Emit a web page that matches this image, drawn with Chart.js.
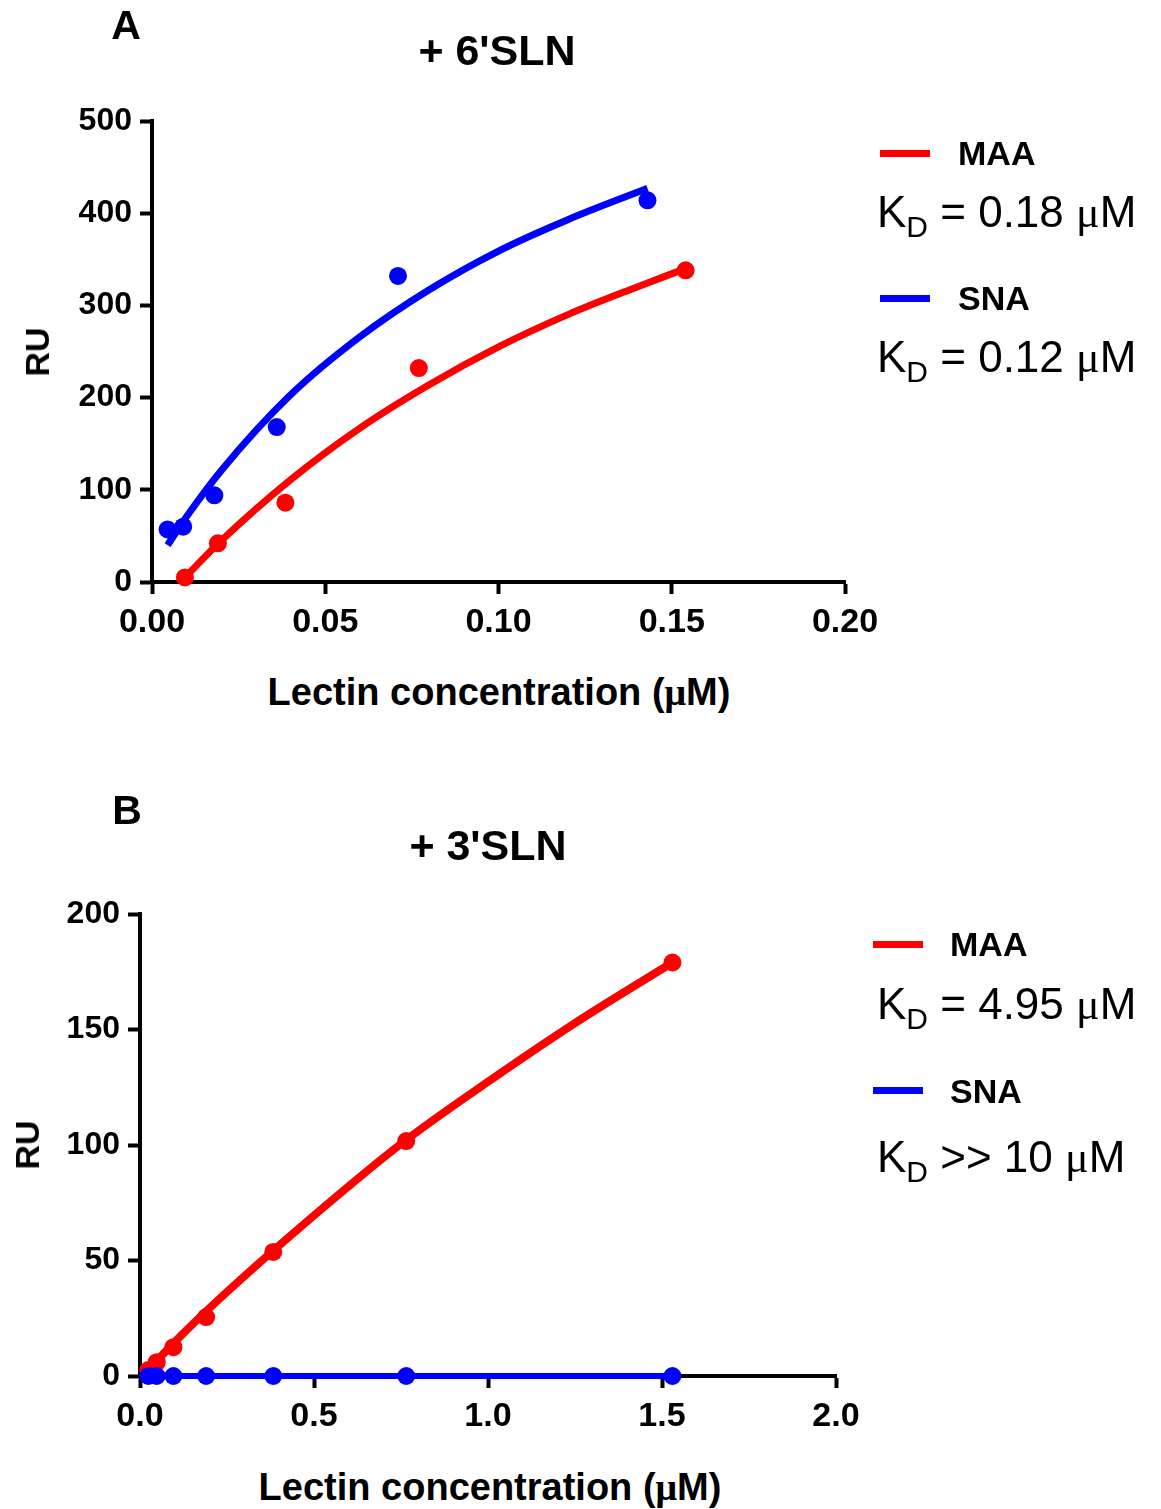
<!DOCTYPE html>
<html><head><meta charset="utf-8">
<script src="https://cdn.jsdelivr.net/npm/chart.js@4"></script>
<style>
body{margin:0;background:#fff;width:1161px;height:1509px;position:relative;overflow:hidden;font-family:"Liberation Sans",Arial,sans-serif;color:#000;}
.abs{position:absolute;white-space:nowrap;line-height:1;}
.c{transform:translate(-50%,-50%);}
.l{transform:translateY(-50%);}
.panel{font-size:41px;font-weight:bold;}
.ttl{font-size:43px;font-weight:bold;}
.xt{font-size:38px;font-weight:bold;}
.yt{font-size:34px;font-weight:bold;transform:translate(-50%,-50%) rotate(-90deg);}
.lg{font-size:34px;font-weight:bold;}
.kd{font-size:44px;}
.kd sub{font-size:30px;vertical-align:-10px;line-height:0;}
.mu{font-family:"Liberation Serif","Times New Roman",serif;}
.bar{position:absolute;height:7px;width:50px;}
canvas{position:absolute;left:0;}
</style></head>
<body>
<canvas id="cA" width="900" height="660" style="top:0px"></canvas>
<canvas id="cB" width="900" height="660" style="top:790px"></canvas>

<div class="abs c panel" style="left:126px;top:25px">A</div>
<div class="abs c ttl" style="left:497px;top:50px">+ 6'SLN</div>
<div class="abs yt" style="left:37px;top:352px">RU</div>
<div class="abs c xt" style="left:499px;top:692px">Lectin concentration (<span class="mu">μ</span>M)</div>
<div class="bar" style="left:880px;top:150px;background:#ff0000"></div>
<div class="abs l lg" style="left:958px;top:153px">MAA</div>
<div class="abs l kd" style="left:877px;top:212px">K<sub>D</sub> = 0.18 <span class="mu">μ</span>M</div>
<div class="bar" style="left:880px;top:295px;background:#0000ff"></div>
<div class="abs l lg" style="left:958px;top:298px">SNA</div>
<div class="abs l kd" style="left:877px;top:357px">K<sub>D</sub> = 0.12 <span class="mu">μ</span>M</div>

<div class="abs c panel" style="left:127px;top:810px">B</div>
<div class="abs c ttl" style="left:488px;top:845px">+ 3'SLN</div>
<div class="abs yt" style="left:27px;top:1145px">RU</div>
<div class="abs c xt" style="left:490px;top:1487px">Lectin concentration (<span class="mu">μ</span>M)</div>
<div class="bar" style="left:873px;top:941px;background:#ff0000"></div>
<div class="abs l lg" style="left:950px;top:944px">MAA</div>
<div class="abs l kd" style="left:877px;top:1004px">K<sub>D</sub> = 4.95 <span class="mu">μ</span>M</div>
<div class="bar" style="left:873px;top:1087px;background:#0000ff"></div>
<div class="abs l lg" style="left:950px;top:1091px">SNA</div>
<div class="abs l kd" style="left:877px;top:1157px">K<sub>D</sub> &gt;&gt; 10 <span class="mu">μ</span>M</div>

<script>
// ---- Panel A (+ 6'SLN) ----
const aMaaX = [0.0095, 0.019, 0.0385, 0.077, 0.154];
const aMaaY = [5, 42, 86, 232, 338];
const aSnaX = [0.0045, 0.009, 0.018, 0.036, 0.071, 0.143];
const aSnaY = [57, 60, 94, 168, 332, 414];
// fitted curves
const aMaaFitX = [0.0095, 0.02, 0.04, 0.06, 0.08, 0.10, 0.12, 0.14, 0.154];
const aMaaFitY = [5, 45, 111, 167, 214, 255, 290, 320, 340];
const aSnaFitX = [0.0045, 0.01, 0.02, 0.04, 0.06, 0.08, 0.10, 0.12, 0.143];
const aSnaFitY = [40, 71, 121, 203, 266, 317, 359, 393, 427];
const aXTicks = [0, 0.05, 0.10, 0.15, 0.20];
const aYTicks = [0, 100, 200, 300, 400, 500];

// ---- Panel B (+ 3'SLN) ----
const bMaaX = [0.024, 0.048, 0.096, 0.19, 0.383, 0.765, 1.53];
const bMaaY = [2.6, 6, 12.5, 25.5, 53.7, 101.7, 179];
const bSnaX = [0.024, 0.048, 0.096, 0.19, 0.383, 0.765, 1.53];
const bSnaY = [0, 0, 0, 0, 0, 0, 0];
const bMaaFitX = [0.024, 0.1, 0.25, 0.5, 0.75, 1.0, 1.25, 1.53];
const bMaaFitY = [2.6, 14.8, 36.4, 69.5, 100.5, 127.4, 152.8, 179];
const bXTicks = [0, 0.5, 1.0, 1.5, 2.0];
const bYTicks = [0, 50, 100, 150, 200];

const RED = '#ff0000', BLUE = '#0000ff';
const pts = (xs, ys) => xs.map((x, i) => ({x, y: ys[i]}));

function axisCommon(extra) {
  return Object.assign({
    type: 'linear',
    border: {display: true, color: '#000', width: 4},
    grid: {drawOnChartArea: false, drawTicks: true, tickLength: 12, tickWidth: 4, tickColor: '#000', color: '#000'}
  }, extra);
}

function makeChart(id, cfg) {
  const pad = cfg.pad;
  return new Chart(document.getElementById(id), {
    type: 'scatter',
    data: {datasets: cfg.datasets},
    options: {
      responsive: false, animation: false, devicePixelRatio: 1,
      layout: {padding: {left: 0, top: pad.top, right: pad.right, bottom: 0}},
      plugins: {legend: {display: false}, tooltip: {enabled: false}},
      scales: {
        x: axisCommon({
          min: cfg.xTicks[0], max: cfg.xTicks[cfg.xTicks.length - 1],
          afterFit: s => { s.height = pad.xh; },
          afterBuildTicks: s => { s.ticks = cfg.xTicks.map(v => ({value: v})); },
          ticks: {color: '#000', padding: 8, maxRotation: 0, autoSkip: false,
                  font: {family: 'Liberation Sans', weight: 'bold', size: 34},
                  callback: v => Number(v).toFixed(cfg.xDec)}
        }),
        y: axisCommon({
          min: cfg.yTicks[0], max: cfg.yTicks[cfg.yTicks.length - 1],
          afterFit: s => { s.width = pad.yw; },
          afterBuildTicks: s => { s.ticks = cfg.yTicks.map(v => ({value: v})); },
          ticks: {color: '#000', padding: 8, autoSkip: false,
                  font: {family: 'Liberation Sans', weight: 'bold', size: 32},
                  callback: v => String(v)}
        })
      }
    }
  });
}

function line(data, color, w) {
  return {data, showLine: true, borderColor: color, borderWidth: w, pointRadius: 0,
          cubicInterpolationMode: 'monotone', fill: false, clip: false, order: 2};
}
function dots(data, color, r) {
  return {data, showLine: false, backgroundColor: color, borderColor: color, borderWidth: 0,
          pointRadius: r, clip: false, order: 1};
}

makeChart('cA', {
  pad: {top: 121, right: 55, xh: 78, yw: 152},
  xTicks: aXTicks, yTicks: aYTicks, xDec: 2,
  datasets: [
    line(pts(aMaaFitX, aMaaFitY), RED, 7),
    line(pts(aSnaFitX, aSnaFitY), BLUE, 7),
    dots(pts(aMaaX, aMaaY), RED, 9),
    dots(pts(aSnaX, aSnaY), BLUE, 9)
  ]
});

makeChart('cB', {
  pad: {top: 124, right: 64, xh: 74, yw: 140},
  xTicks: bXTicks, yTicks: bYTicks, xDec: 1,
  datasets: [
    line(pts(bSnaX, bSnaY), BLUE, 6),
    line(pts(bMaaFitX, bMaaFitY), RED, 8),
    dots(pts(bSnaX, bSnaY), BLUE, 9),
    dots(pts(bMaaX, bMaaY), RED, 9)
  ]
});
</script>
</body></html>
